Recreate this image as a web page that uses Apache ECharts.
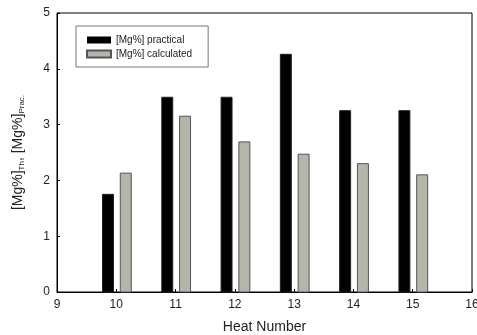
<!DOCTYPE html>
<html><head><meta charset="utf-8">
<script src="https://cdn.jsdelivr.net/npm/echarts@6/dist/echarts.min.js"></script>
<style>html,body{margin:0;padding:0;background:#fff;overflow:hidden}#c{width:477px;height:335px}</style>
</head><body><div id="c"></div>
<script>
const heats = [10, 11, 12, 13, 14, 15];
const practical = [1.75, 3.49, 3.49, 4.26, 3.25, 3.25];
const calculated = [2.13, 3.15, 2.69, 2.47, 2.30, 2.10];
const xTicks = [9, 10, 11, 12, 13, 14, 15, 16];
const yTicks = [0, 1, 2, 3, 4, 5];

const FONT = 'Liberation Sans, Arial, sans-serif';
const BW = 0.185;
function makeRender(offset, fill, stroke) {
  return function (params, api) {
    const x = api.value(0) + offset, v = api.value(1);
    const p0 = api.coord([x - BW / 2, v]);
    const p1 = api.coord([x + BW / 2, 0]);
    return { type: 'rect', shape: { x: p0[0], y: p0[1], width: p1[0] - p0[0], height: p1[1] - p0[1] },
      style: { fill: fill, stroke: stroke, lineWidth: 1 } };
  };
}
const chart = echarts.init(document.getElementById('c'));
chart.setOption({
  animation: false,
  textStyle: { fontFamily: FONT },
  grid: { left: 57, right: 5, top: 13, bottom: 43, containLabel: false, outerBoundsMode: 'none',
    show: true, borderColor: '#000', borderWidth: 1, backgroundColor: 'transparent' },
  legend: {
    left: 76, top: 26, orient: 'vertical', itemWidth: 24, itemHeight: 7, itemGap: 4,
    borderColor: '#777', borderWidth: 1, padding: [9, 16, 8, 10],
    textStyle: { fontSize: 10, color: '#222', fontFamily: FONT },
    data: [{ name: '[Mg%] practical', icon: 'rect' }, { name: '[Mg%] calculated', icon: 'rect' }]
  },
  xAxis: {
    type: 'value', min: 9, max: 16, interval: 1,
    name: 'Heat Number', nameLocation: 'middle', nameGap: 28,
    nameTextStyle: { fontSize: 14, color: '#222', fontFamily: FONT },
    axisLine: { lineStyle: { color: '#000' } },
    axisTick: { inside: true, length: 3, lineStyle: { color: '#000' } },
    axisLabel: { fontSize: 12, color: '#222', margin: 7, fontFamily: FONT,
      formatter: v => xTicks.includes(v) ? String(v) : '' },
    splitLine: { show: false }
  },
  yAxis: {
    type: 'value', min: 0, max: 5, interval: 1,
    name: '{n|[Mg%]}{s|Th}{n|, [Mg%]}{s|Prac.}', nameLocation: 'middle', nameGap: 31, nameRotate: 90,
    nameTextStyle: { rich: {
      n: { fontSize: 14, color: '#222', fontFamily: FONT },
      s: { fontSize: 8, color: '#222', fontFamily: FONT, padding: [7, 0, 0, 0] } } },
    axisLine: { show: true, lineStyle: { color: '#000' } },
    axisTick: { show: true, inside: true, length: 3, lineStyle: { color: '#000' } },
    axisLabel: { fontSize: 12, color: '#222', margin: 7, fontFamily: FONT,
      formatter: v => yTicks.includes(v) ? String(v) : '' },
    splitLine: { show: false }
  },
  series: [
    { name: '[Mg%] practical', type: 'custom', itemStyle: { color: '#000' },
      renderItem: makeRender(-0.14, '#000', '#222'),
      data: heats.map((h, i) => [h, practical[i]]) },
    { name: '[Mg%] calculated', type: 'custom', itemStyle: { color: '#b5b5aa', borderColor: '#555', borderWidth: 1 },
      renderItem: makeRender(0.16, '#b5b5aa', '#555'),
      data: heats.map((h, i) => [h, calculated[i]]) }
  ]
});
</script></body></html>
